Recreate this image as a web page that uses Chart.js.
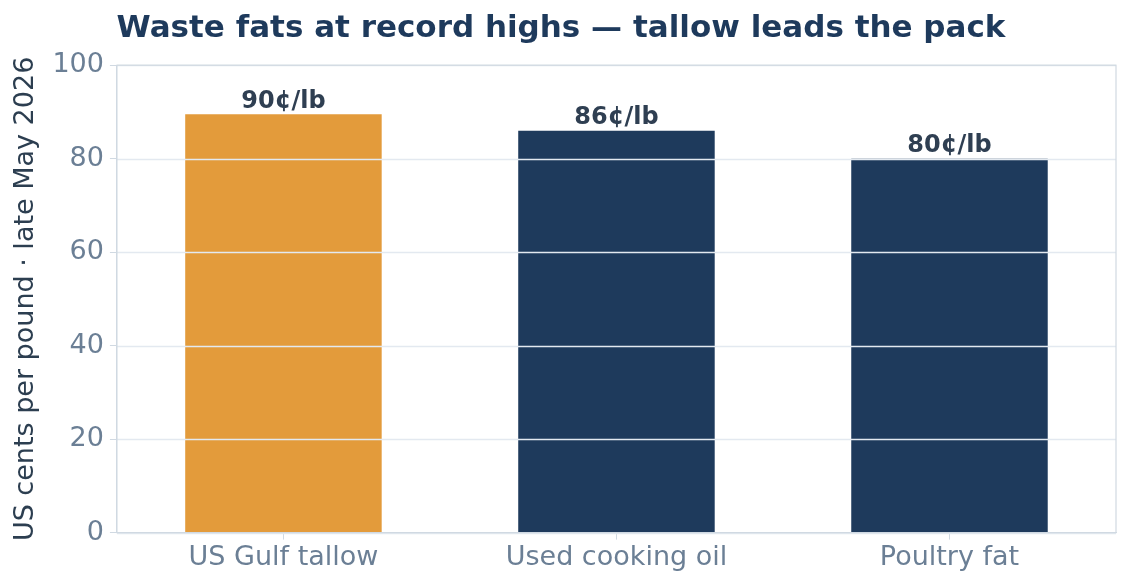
<!DOCTYPE html>
<html><head><meta charset="utf-8">
<script src="https://cdn.jsdelivr.net/npm/chart.js@4"></script>
<style>html,body{margin:0;padding:0;background:#fff}#w{width:1130px;height:584px}</style>
</head><body><div id="w"><canvas id="c"></canvas></div>
<script>
const categories = ["US Gulf tallow", "Used cooking oil", "Poultry fat"];
const values = [89.5, 86, 80];
const labels = ["90¢/lb", "86¢/lb", "80¢/lb"];
const colors = ["#e39b3b", "#1e3a5c", "#1e3a5c"];
const yTicks = [0, 20, 40, 60, 80, 100];

const extras = {
  id: 'extras',
  afterDatasetsDraw(chart) {
    const ctx = chart.ctx, a = chart.chartArea, y = chart.scales.y;
    ctx.save();
    ctx.strokeStyle = '#e3e9f0'; ctx.lineWidth = 1.5;
    yTicks.forEach(v => { const p = Math.round(y.getPixelForValue(v)) + 0.5; ctx.beginPath(); ctx.moveTo(a.left, p); ctx.lineTo(a.right, p); ctx.stroke(); });
    ctx.strokeStyle = '#d0d9e2'; ctx.lineWidth = 1.2;
    ctx.strokeRect(a.left, a.top, a.right - a.left, a.bottom - a.top);
    ctx.font = 'bold 24px "DejaVu Sans"'; ctx.fillStyle = '#2f3f52';
    ctx.textAlign = 'center'; ctx.textBaseline = 'bottom';
    chart.getDatasetMeta(0).data.forEach((b, i) => ctx.fillText(labels[i], b.x, b.y - 1));
    ctx.restore();
  }
};

Chart.defaults.font.family = '"DejaVu Sans"';
new Chart(document.getElementById('c'), {
  type: 'bar',
  data: { labels: categories, datasets: [{ data: values, backgroundColor: colors, categoryPercentage: 1, barPercentage: 0.59 }] },
  options: {
    responsive: true, maintainAspectRatio: false, animation: false,
    layout: { padding: { left: 6, right: 14, top: 0, bottom: 8 } },
    plugins: {
      legend: { display: false }, tooltip: { enabled: false },
      title: { display: true, text: 'Waste fats at record highs — tallow leads the pack', color: '#1e3a5c',
        font: { size: 31, weight: 'bold' }, padding: { top: 10, bottom: 18 } }
    },
    scales: {
      x: { grid: { display: true, offset: false, drawOnChartArea: false, color: '#d0d9e2', tickLength: 7 },
        border: { color: '#d0d9e2' },
        ticks: { color: '#6b7f95', font: { size: 27 }, padding: 2 } },
      y: { min: 0, max: 100, afterBuildTicks: s => { s.ticks = yTicks.map(v => ({ value: v })); },
        grid: { drawOnChartArea: false, color: '#d0d9e2', tickLength: 7 },
        border: { color: '#d0d9e2' },
        ticks: { color: '#6b7f95', font: { size: 27 }, padding: 6 },
        title: { display: true, text: 'US cents per pound · late May 2026', color: '#2c3e50', font: { size: 27 }, padding: { bottom: 4 } } }
    }
  },
  plugins: [extras]
});
</script></body></html>
